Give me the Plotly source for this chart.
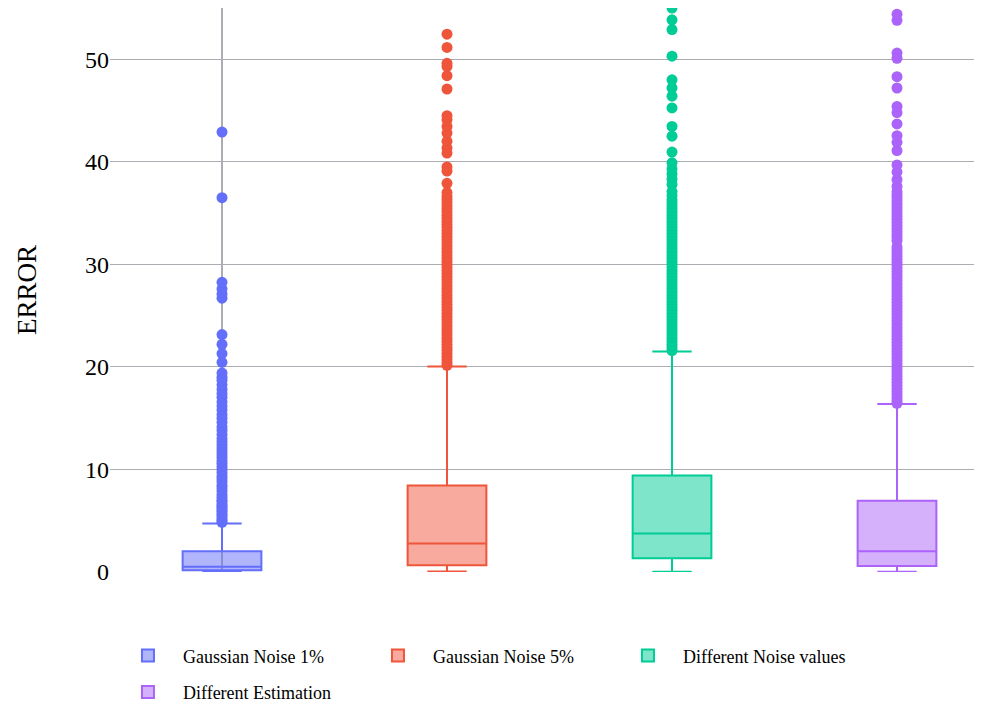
import plotly.graph_objects as go

# ---------------- data ----------------
names = ["Gaussian Noise 1%", "Gaussian Noise 5%", "Different Noise values", "Different Estimation"]
colors = ["#636efa", "#EF553B", "#00cc96", "#ab63fa"]

q1 = [0.18, 0.65, 1.34, 0.58]
median = [0.50, 2.78, 3.75, 2.03]
q3 = [2.03, 8.43, 9.42, 6.94]
lowerfence = [0.02, 0.04, 0.03, 0.03]
upperfence = [4.74, 20.05, 21.50, 16.38]

outliers_1 = [4.85, 5.0, 5.2, 5.45, 5.6, 5.85, 6.0, 6.25, 6.4, 6.6, 6.85, 7.0, 7.3, 7.55, 7.9, 8.2,
              8.45, 8.8, 9.1, 9.35, 9.7, 10.0, 10.3, 10.6, 10.85, 11.2, 11.5, 11.8, 12.1, 12.4,
              12.7, 13.0, 13.4, 13.8, 14.15, 14.6, 15.0, 15.35, 15.8, 16.2, 16.6, 17.05, 17.4,
              17.8, 18.25, 18.7, 19.0, 19.4, 20.45, 21.3, 22.2, 23.15, 26.7, 27.1, 27.6, 28.25,
              36.5, 42.9]
outliers_2 = [20.15, 20.4, 20.7, 21.0, 21.3, 21.6, 21.9, 22.2, 22.5, 22.8, 23.1, 23.4, 23.7, 24.0,
              24.3, 24.6, 24.9, 25.2, 25.5, 25.8, 26.1, 26.4, 26.7, 27.0, 27.3, 27.6, 27.9, 28.2,
              28.5, 28.8, 29.1, 29.4, 29.7, 30.0, 30.3, 30.6, 30.9, 31.2, 31.5, 31.8, 32.1, 32.4,
              32.7, 33.0, 33.3, 33.6, 33.9, 34.2, 34.5, 34.8, 35.1, 35.4, 35.7, 36.0, 36.3, 36.6,
              37.0, 37.9, 39.1, 39.5, 40.85, 41.35, 42.0, 42.8, 43.45, 44.1, 44.5, 47.1, 48.4,
              49.3, 49.6, 51.15, 52.45]
outliers_3 = [21.6, 21.9, 22.2, 22.5, 22.8, 23.1, 23.4, 23.7, 24.0, 24.3, 24.6, 24.9, 25.2, 25.5,
              25.8, 26.1, 26.4, 26.7, 27.0, 27.3, 27.6, 27.9, 28.2, 28.5, 28.8, 29.1, 29.4, 29.7,
              30.0, 30.3, 30.6, 30.9, 31.2, 31.5, 31.8, 32.1, 32.4, 32.7, 33.0, 33.3, 33.6, 33.9,
              34.2, 34.5, 34.8, 35.1, 35.4, 35.7, 36.0, 36.3, 36.7, 37.1, 37.8, 38.3, 38.8, 39.3,
              39.9, 40.95, 42.5, 43.45, 45.25, 46.4, 47.2, 48.0, 50.3, 52.9, 53.85, 55.0]
outliers_4 = [16.45, 16.7, 17.0, 17.3, 17.6, 17.9, 18.2, 18.5, 18.8, 19.1, 19.4, 19.7, 20.0, 20.3,
              20.6, 20.9, 21.2, 21.5, 21.8, 22.1, 22.4, 22.7, 23.0, 23.3, 23.6, 23.9, 24.2, 24.5,
              24.8, 25.1, 25.4, 25.7, 26.0, 26.3, 26.6, 26.9, 27.2, 27.5, 27.8, 28.1, 28.4, 28.7,
              29.0, 29.3, 29.6, 29.9, 30.2, 30.5, 30.8, 31.1, 31.4, 31.7, 32.3, 32.6, 32.9, 33.2,
              33.5, 33.8, 34.1, 34.4, 34.7, 35.0, 35.3, 35.6, 35.9, 36.2, 36.5, 36.8, 37.1, 37.6,
              38.25, 39.0, 39.7, 41.1, 41.9, 42.55, 43.7, 44.8, 45.4, 47.2, 48.3, 50.1, 50.6,
              53.8, 54.4]
outliers = [outliers_1, outliers_2, outliers_3, outliers_4]

y_tick_vals = [0, 10, 20, 30, 40, 50]
y_tick_text = ["0", "10", "20", "30", "40", "50"]

# ---------------- figure ----------------
FONT = "Liberation Serif, Times New Roman, serif"
GRID = "#abadb2"

fig = go.Figure()
for i, name in enumerate(names):
    fig.add_trace(go.Box(
        x=[i], q1=[q1[i]], median=[median[i]], q3=[q3[i]],
        lowerfence=[lowerfence[i]], upperfence=[upperfence[i]],
        name=name, legendgroup=name, marker_color=colors[i],
        line=dict(width=2), width=0.35, boxpoints=False,
    ))
for i, name in enumerate(names):
    fig.add_trace(go.Scatter(
        x=[i] * len(outliers[i]), y=outliers[i], mode="markers",
        marker=dict(color=colors[i], size=11),
        name=name, legendgroup=name, showlegend=False, cliponaxis=True,
    ))

fig.update_layout(
    width=1000, height=704,
    paper_bgcolor="white", plot_bgcolor="white",
    margin=dict(l=102, r=0, t=0, b=139.5, autoexpand=False),
    font=dict(family=FONT, color="black"),
    showlegend=True,
    legend=dict(
        orientation="h", x=0.0033, xanchor="left", y=-0.116, yanchor="top",
        font=dict(size=18, family=FONT), itemwidth=60,
        entrywidth=175, entrywidthmode="pixels",
    ),
    xaxis=dict(
        range=[-0.4978, 3.4933], showgrid=False, showticklabels=False, ticks="",
        zeroline=True, zerolinecolor=GRID, zerolinewidth=2, showline=False,
    ),
    yaxis=dict(
        range=[0, 55], tickvals=y_tick_vals, ticktext=y_tick_text,
        showgrid=True, gridcolor=GRID, gridwidth=1,
        zeroline=True, zerolinecolor="rgba(0,0,0,0)", showline=False, ticks="",
        tickfont=dict(size=24, family=FONT),
        title=dict(text="ERROR", font=dict(size=27, family=FONT), standoff=40),
        automargin=False,
    ),
)

fig.write_html("out.html", post_script="document.body.style.overflow = 'hidden';")
